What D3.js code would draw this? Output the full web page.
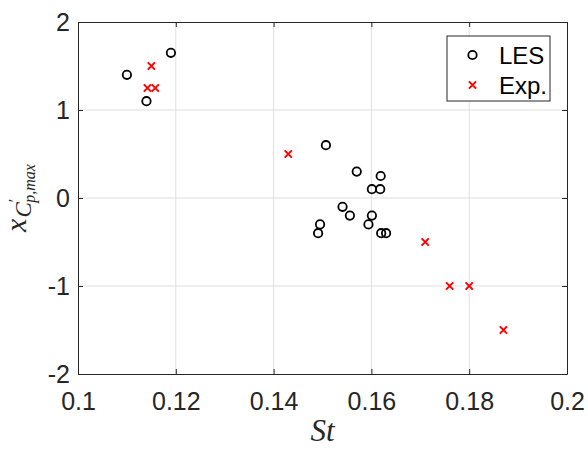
<!DOCTYPE html>
<html>
<head>
<meta charset="utf-8">
<script src="https://cdn.jsdelivr.net/npm/d3@7"></script>
<style>
  body { margin: 0; background: #fff; }
  svg { display: block; }
</style>
</head>
<body>
<svg id="chart" width="588" height="451"></svg>
<script>
// ---- data ----
const lesSt  = [0.110, 0.119, 0.114, 0.1507, 0.157, 0.1619, 0.1601, 0.1618, 0.1541, 0.1556, 0.1601, 0.1594, 0.1495, 0.1491, 0.1620, 0.1630];
const lesX   = [1.40, 1.65, 1.10, 0.60, 0.30, 0.25, 0.10, 0.10, -0.10, -0.20, -0.20, -0.30, -0.30, -0.40, -0.40, -0.40];
const expSt  = [0.115, 0.1142, 0.1158, 0.143, 0.171, 0.176, 0.180, 0.187];
const expX   = [1.50, 1.25, 1.25, 0.50, -0.50, -1.00, -1.00, -1.50];
const xTicks = [0.1, 0.12, 0.14, 0.16, 0.18, 0.2];
const yTicks = [-2, -1, 0, 1, 2];
const xTickLabels = ["0.1", "0.12", "0.14", "0.16", "0.18", "0.2"];
const yTickLabels = ["-2", "-1", "0", "1", "2"];
const legendLabels = ["LES", "Exp."];

// ---- layout ----
const L = 78, R = 567, T = 22, B = 374;
const svg = d3.select("#chart");
const x = d3.scaleLinear().domain([0.1, 0.2]).range([L, R]);
const y = d3.scaleLinear().domain([-2, 2]).range([B, T]);
const axisColor = "#262626";
const font = "'Liberation Sans', Arial, Helvetica, sans-serif";
const serif = "'Liberation Serif', 'Times New Roman', serif";

// grid
const grid = svg.append("g");
grid.selectAll("line.gx").data(xTicks.slice(1, -1)).enter().append("line")
  .attr("x1", d => x(d)).attr("x2", d => x(d)).attr("y1", T).attr("y2", B)
  .attr("stroke", "#dfdfdf").attr("stroke-width", 1);
grid.selectAll("line.gy").data(yTicks.slice(1, -1)).enter().append("line")
  .attr("y1", d => y(d)).attr("y2", d => y(d)).attr("x1", L).attr("x2", R)
  .attr("stroke", "#dfdfdf").attr("stroke-width", 1);

// axes
const xAxis = d3.axisBottom(x).tickValues(xTicks).tickSizeInner(-5).tickSizeOuter(0)
  .tickFormat((d, i) => xTickLabels[i]).tickPadding(18);
const gx = svg.append("g").attr("transform", `translate(0,${B})`).call(xAxis);
gx.select(".domain").attr("stroke", axisColor);
gx.selectAll(".tick line").attr("stroke", axisColor);
gx.selectAll(".tick text").attr("fill", axisColor).attr("font-family", font).attr("font-size", 25);

const yAxis = d3.axisLeft(y).tickValues(yTicks).tickSizeInner(-5).tickSizeOuter(0)
  .tickFormat((d, i) => yTickLabels[i]).tickPadding(8);
const gy = svg.append("g").attr("transform", `translate(${L},0)`).call(yAxis);
gy.select(".domain").attr("stroke", axisColor);
gy.selectAll(".tick line").attr("stroke", axisColor);
gy.selectAll(".tick text").attr("fill", axisColor).attr("font-family", font).attr("font-size", 25);

// top and right box axes
const gt = svg.append("g").attr("transform", `translate(0,${T})`)
  .call(d3.axisTop(x).tickValues(xTicks).tickSizeInner(-5).tickSizeOuter(0).tickFormat(""));
gt.select(".domain").attr("stroke", axisColor);
gt.selectAll(".tick line").attr("stroke", axisColor);
const gr = svg.append("g").attr("transform", `translate(${R},0)`)
  .call(d3.axisRight(y).tickValues(yTicks).tickSizeInner(-5).tickSizeOuter(0).tickFormat(""));
gr.select(".domain").attr("stroke", axisColor);
gr.selectAll(".tick line").attr("stroke", axisColor);

// markers
const crossPath = s => `M${-s},${-s}L${s},${s}M${-s},${s}L${s},${-s}`;
const les = lesSt.map((s, i) => ({s, v: lesX[i]}));
const exp = expSt.map((s, i) => ({s, v: expX[i]}));

svg.append("g").selectAll("circle").data(les).enter().append("circle")
  .attr("cx", d => x(d.s)).attr("cy", d => y(d.v)).attr("r", 4.2)
  .attr("fill", "none").attr("stroke", "#000").attr("stroke-width", 1.8);

svg.append("g").selectAll("path").data(exp).enter().append("path")
  .attr("transform", d => `translate(${x(d.s)},${y(d.v)})`)
  .attr("d", crossPath(3.6))
  .attr("stroke", "#ff0000").attr("stroke-width", 2).attr("fill", "none");

// legend
const lg = svg.append("g");
lg.append("rect").attr("x", 447).attr("y", 36).attr("width", 103).attr("height", 65)
  .attr("fill", "#fff").attr("stroke", axisColor).attr("stroke-width", 1);
lg.append("circle").attr("cx", 472.5).attr("cy", 55).attr("r", 4.2)
  .attr("fill", "none").attr("stroke", "#000").attr("stroke-width", 1.8);
lg.append("path").attr("transform", "translate(472.5,85)").attr("d", crossPath(3.6))
  .attr("stroke", "#ff0000").attr("stroke-width", 2);
lg.selectAll("text").data(legendLabels).enter().append("text")
  .attr("x", 499).attr("y", (d, i) => 63.5 + i * 30)
  .attr("font-family", font).attr("font-size", 24).attr("fill", "#000")
  .text(d => d);

// x label
svg.append("text").attr("x", (L + R) / 2).attr("y", 441).attr("text-anchor", "middle")
  .attr("font-family", serif).attr("font-style", "italic")
  .attr("font-size", 31).attr("fill", axisColor).text("St");

// y label: x_{C'_{p,max}}
const yl = svg.append("text")
  .attr("transform", `translate(26,${(T + B) / 2}) rotate(-90)`)
  .attr("text-anchor", "middle")
  .attr("font-family", serif).attr("font-style", "italic")
  .attr("fill", axisColor);
yl.append("tspan").attr("font-size", 30).text("x");
yl.append("tspan").attr("font-size", 23).attr("dy", 5).attr("dx", 1).text("C");
yl.append("tspan").attr("font-size", 16).attr("font-style", "normal").attr("dy", -11).attr("dx", 0).text("′");
yl.append("tspan").attr("font-size", 16).attr("dy", 15).attr("dx", -4).text("p,max");
</script>
</body>
</html>
